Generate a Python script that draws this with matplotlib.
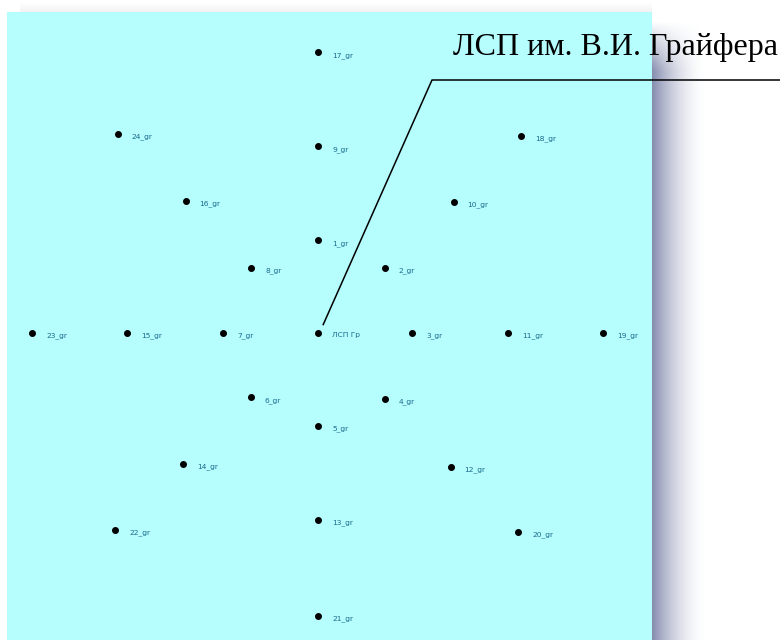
import numpy as np
import matplotlib
matplotlib.use("Agg")
import matplotlib.pyplot as plt
from matplotlib.lines import Line2D

# well positions (grid units, center = ЛСП Гр)
names = ["17_gr", "24_gr", "9_gr", "18_gr", "16_gr", "10_gr", "1_gr", "8_gr",
         "2_gr", "23_gr", "15_gr", "7_gr", "ЛСП Гр", "3_gr", "11_gr", "19_gr",
         "6_gr", "4_gr", "5_gr", "14_gr", "12_gr", "13_gr", "22_gr", "20_gr",
         "21_gr"]
xs = [0.0, -2.13, 0.0, 2.16, -1.41, 1.44, 0.0, -0.71,
      0.71, -3.04, -2.03, -1.01, 0.0, 1.0, 2.02, 3.03,
      -0.72, 0.71, 0.0, -1.44, 1.41, 0.0, -2.16, 2.13,
      0.0]
ys = [2.98, 2.11, 1.98, 2.09, 1.40, 1.39, 0.98, 0.69,
      0.69, 0.0, 0.0, 0.0, 0.0, 0.0, 0.0, 0.0,
      -0.69, -0.71, -0.99, -1.40, -1.43, -1.99, -2.10, -2.12,
      -3.01]
title = "ЛСП им. В.И. Грайфера"
target = "ЛСП Гр"

W, H = 780, 640
fig = plt.figure(figsize=(W / 100, H / 100), dpi=100)
fig.patch.set_facecolor("white")

# shadow at the right of the panel
sh = fig.add_axes([652 / W, 0, 55 / W, (H - 20) / H])
gx = np.linspace(0, 1, 120)
gy = np.linspace(0, 1, 200)
row = (1 - gx) ** 1.8
col = np.clip((1 - gy) / 0.08, 0, 1)
alpha = col[:, None] * row[None, :]
img = np.zeros((200, 120, 4))
img[..., 0] = 0.50
img[..., 1] = 0.53
img[..., 2] = 0.67
img[..., 3] = alpha * 0.95
sh.imshow(img, aspect="auto", origin="lower", interpolation="bilinear")
sh.axis("off")

# faint shadow above the panel
top = fig.add_axes([20 / W, (H - 12) / H, 632 / W, 10 / H])
tg = np.zeros((20, 2, 4))
tg[..., :3] = 0.6
tg[..., 3] = np.linspace(0.12, 0.0, 20)[:, None]
top.imshow(tg, aspect="auto", origin="lower", interpolation="bilinear")
top.axis("off")

ax = fig.add_axes([7 / W, 0, (652 - 7) / W, (H - 12) / H])
ax.set_facecolor("#b6fdfd")
ax.set_xlim(-3.31, 3.55)
ax.set_ylim(-3.27, 3.41)
ax.set_xticks([])
ax.set_yticks([])
for s in ax.spines.values():
    s.set_visible(False)

ax.scatter(xs, ys, s=16, c="black", zorder=3)
for n, x, y in zip(names, xs, ys):
    ax.annotate(n, (x, y), xytext=(10, -2), textcoords="offset points",
                fontsize=5.4, color="#1a6a8e", va="center", ha="left")

# leader line from the title to the centre well
i = names.index(target)
px, py = ax.transData.transform((xs[i], ys[i]))
x0, y0 = px + 5, py + 8
line = Line2D([x0, 432, W], [y0, H - 80, H - 80], transform=None,
              color="black", lw=1.1)
fig.add_artist(line)

fig.text(453 / W, 1 - 55 / H, title, fontsize=23, family="Liberation Serif",
         color="black", va="baseline", ha="left")

fig.savefig("out.png", dpi=100)
